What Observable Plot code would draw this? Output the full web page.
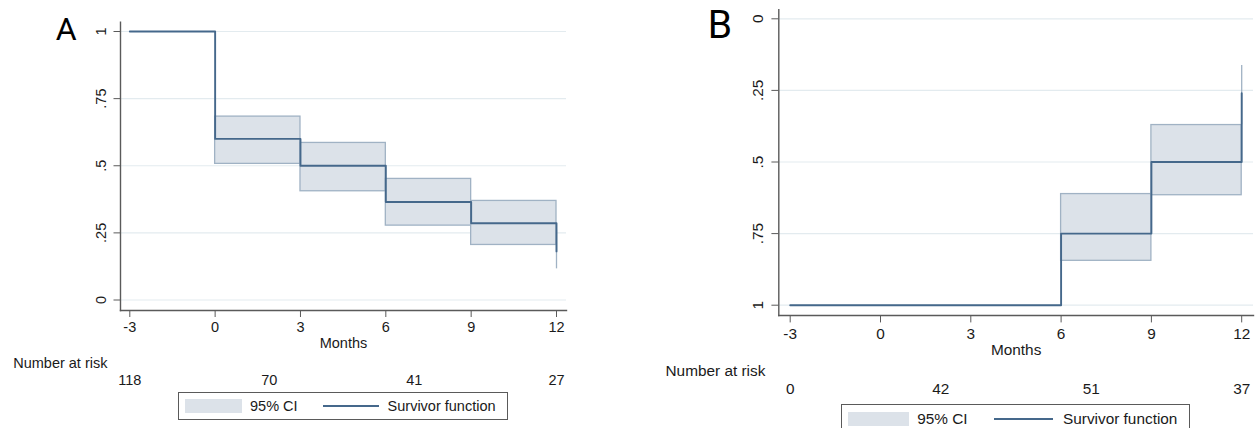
<!DOCTYPE html>
<html>
<head>
<meta charset="utf-8">
<script src="https://cdn.jsdelivr.net/npm/d3@7"></script>
<script src="https://cdn.jsdelivr.net/npm/@observablehq/plot@0.6"></script>
<style>
  html, body { margin: 0; padding: 0; background: #fff; }
  #root { position: relative; width: 1259px; height: 428px; overflow: hidden; background: #fff; }
  #root svg { position: absolute; top: 0; }
  .legend { position: absolute; box-sizing: border-box; border: 1.4px solid #5a5a5a; display: flex; align-items: center;
            font-family: "Liberation Sans", Arial, sans-serif; color: #1a1a1a; background: #fff; }
  .legend .sw { background: #dce2e9; }
  .legend .ln { background: #45688b; }
</style>
</head>
<body>
<div id="root"></div>
<script>
// ---------- shared axis data ----------
const xTicks = [-3, 0, 3, 6, 9, 12];
const xTickLabels = ["-3", "0", "3", "6", "9", "12"];
const yTicks = [0, 0.25, 0.5, 0.75, 1];
const yTickLabels = ["0", ".25", ".5", ".75", "1"];
const axisTitle = "Months";
const riskTitle = "Number at risk";
const legendLabels = ["95% CI", "Survivor function"];
const panelLabels = ["A", "B"];

// ---------- panel A ----------
const timesA = [-3, 0, 3, 6, 9, 12];
const survA = [1, 0.6, 0.5, 0.365, 0.286, 0.181];
const ciLowA = [null, 0.507, 0.405, 0.277, 0.205, 0.116];
const ciHighA = [null, 0.683, 0.585, 0.451, 0.369, 0.26];
const riskTimesA = [-3, 1.9, 7, 12];
const riskCountsA = [118, 70, 41, 27];

// ---------- panel B ----------
const timesB = [-3, 0, 3, 6, 9, 12];
const survB = [1, 1, 1, 0.75, 0.5, 0.26];
const ciLowB = [null, null, null, 0.612, 0.371, 0.163];
const ciHighB = [null, null, null, 0.845, 0.616, 0.37];
const riskTimesB = [-3, 2, 7, 12];
const riskCountsB = [0, 42, 51, 37];

const LINE = "#45688b", CI_FILL = "#dce2e9", CI_EDGE = "#a0b2c4", AXIS = "#5a5a5a", GRID = "#e3ebef", TXT = "#1a1a1a";

function makePanel(c) {
  const s = c.scale;
  const surv = c.times.map((t, i) => ({t, s: c.surv[i]}));
  const rects = [];
  c.times.forEach((t, i) => {
    if (i < c.times.length - 1 && c.lo[i] != null) rects.push({t0: t, t1: c.times[i + 1], lo: c.lo[i], hi: c.hi[i]});
  });
  const last = c.times.length - 1;
  const ends = c.lo[last] != null ? [{t: c.times[last], lo: c.lo[last], hi: c.hi[last]}] : [];
  const risk = c.riskTimes.map((t, i) => ({t, n: c.riskCounts[i]}));
  const fs = 14.5 * s;
  const svg = Plot.plot({
    width: c.width, height: c.height,
    marginLeft: c.ml, marginRight: c.mr, marginTop: c.mt, marginBottom: c.mb,
    x: {domain: [-3, 12], insetLeft: c.il, insetRight: c.ir},
    y: {domain: [0, 1], reverse: c.reverse, insetTop: c.it, insetBottom: c.ib},
    style: {fontFamily: "'Liberation Sans', Arial, sans-serif", fontSize: fs + "px", color: TXT, background: "transparent", overflow: "visible"},
    marks: [
      Plot.gridY(yTicks, {stroke: GRID, strokeOpacity: 1, strokeWidth: 1.2}),
      Plot.rect(rects, {x1: "t0", x2: "t1", y1: "lo", y2: "hi", fill: CI_FILL, stroke: CI_EDGE, strokeWidth: 1.3}),
      Plot.ruleX(ends, {x: "t", y1: "lo", y2: "hi", stroke: CI_EDGE, strokeWidth: 1.3}),
      Plot.line(surv, {x: "t", y: "s", curve: "step-after", stroke: LINE, strokeWidth: 1.9}),
      Plot.frame({anchor: "left", stroke: AXIS, strokeWidth: 1.4}),
      Plot.frame({anchor: "bottom", stroke: AXIS, strokeWidth: 1.4}),
      Plot.axisX(xTicks, {tickSize: 7 * s, tickPadding: 4.5 * s, label: null, stroke: AXIS, fill: TXT, fontSize: fs,
                          tickFormat: d => xTickLabels[xTicks.indexOf(d)]}),
      Plot.axisY(yTicks, {tickSize: 6.5 * s, tickRotate: -90, tickPadding: 8 * s, label: null, stroke: AXIS, fill: TXT, fontSize: fs,
                          tickFormat: d => yTickLabels[yTicks.indexOf(d)]}),
      Plot.text([axisTitle], {frameAnchor: "bottom", dy: 37.5 * s, fill: TXT, fontSize: fs}),
      Plot.text([riskTitle], {frameAnchor: "bottom-left", textAnchor: "start", dx: c.riskDx, dy: 57 * s, fill: TXT, fontSize: fs}),
      Plot.text(risk, {x: "t", text: "n", frameAnchor: "bottom", dy: 74.5 * s, fill: TXT, fontSize: fs}),
      Plot.text([c.label], {frameAnchor: "top-left", textAnchor: "start", lineAnchor: "top", dx: c.labelDx, dy: c.labelDy,
                            fontFamily: "Roboto, 'Noto Sans', sans-serif", fontSize: c.labelSize, fill: "#000"})
    ]
  });
  svg.style.left = c.left + "px";
  return svg;
}

function makeLegend(left, top, s, height) {
  const d = document.createElement("div");
  d.className = "legend";
  d.style.left = left + "px";
  d.style.top = top + "px";
  d.style.height = height + "px";
  d.style.fontSize = (14.5 * s) + "px";
  d.style.padding = `0 ${11 * s}px 0 ${6 * s}px`;
  const sw = document.createElement("div");
  sw.className = "sw"; sw.style.width = (57 * s) + "px"; sw.style.height = (14 * s) + "px";
  const t1 = document.createElement("span"); t1.textContent = legendLabels[0]; t1.style.marginLeft = (8 * s) + "px";
  const ln = document.createElement("div");
  ln.className = "ln"; ln.style.width = (56 * s) + "px"; ln.style.height = "1.6px"; ln.style.marginLeft = (25 * s) + "px";
  const t2 = document.createElement("span"); t2.textContent = legendLabels[1]; t2.style.marginLeft = (9 * s) + "px";
  d.append(sw, t1, ln, t2);
  return d;
}

const root = document.getElementById("root");
root.append(makePanel({
  left: 0, width: 600, height: 400, scale: 1,
  ml: 120, mr: 34, mt: 21.7, mb: 90, il: 9.3, ir: 10, it: 9.3, ib: 10.5, reverse: false,
  times: timesA, surv: survA, lo: ciLowA, hi: ciHighA, riskTimes: riskTimesA, riskCounts: riskCountsA,
  riskDx: -107.3, label: panelLabels[0], labelDx: -64.8, labelDy: -5, labelSize: 32
}));
root.append(makePanel({
  left: 640, width: 619, height: 428, scale: 1.06,
  ml: 138.3, mr: 6, mt: 9.3, mb: 113, il: 11.4, ir: 11.8, it: 9, ib: 10.3, reverse: true,
  times: timesB, surv: survB, lo: ciLowB, hi: ciHighB, riskTimes: riskTimesB, riskCounts: riskCountsB,
  riskDx: -113.3, label: panelLabels[1], labelDx: -71, labelDy: 0.7, labelSize: 39
}));
root.append(makeLegend(178, 392, 1, 28));
root.append(makeLegend(841, 404, 1.06, 30));
</script>
</body>
</html>
